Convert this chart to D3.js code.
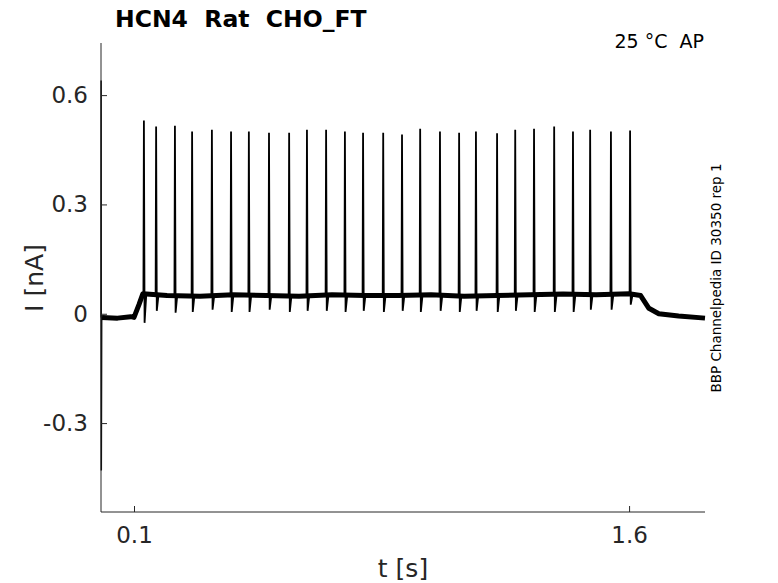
<!DOCTYPE html>
<html>
<head>
<meta charset="utf-8">
<script src="https://cdn.jsdelivr.net/npm/d3@7"></script>
<style>
  body { margin: 0; background: #fff; }
  svg { display: block; font-family: "DejaVu Sans", sans-serif; }
</style>
</head>
<body>
<svg id="chart" width="778" height="583"></svg>
<script>
// Spike times [s], peak currents and post-spike troughs [nA]
const spikeTimes = [0.130, 0.167, 0.224, 0.276, 0.336, 0.394, 0.448, 0.509, 0.570, 0.624,
                    0.682, 0.739, 0.794, 0.855, 0.912, 0.967, 1.027, 1.085, 1.136, 1.200,
                    1.255, 1.312, 1.373, 1.430, 1.482, 1.545, 1.603];
const spikePeaks = [0.530, 0.514, 0.516, 0.500, 0.505, 0.500, 0.500, 0.497, 0.497, 0.505,
                    0.505, 0.500, 0.497, 0.497, 0.492, 0.508, 0.500, 0.497, 0.500, 0.495,
                    0.505, 0.508, 0.514, 0.500, 0.505, 0.500, 0.503];
const spikeTroughs = [-0.025, 0.008, 0.003, 0.005, 0.011, 0.005, 0.005, 0.011, 0.005, 0.008,
                      0.008, 0.005, 0.008, 0.005, 0.008, 0.005, 0.008, 0.005, 0.008, 0.005,
                      0.008, 0.005, 0.005, 0.005, 0.011, 0.011, 0.025];
const plateauLevel = 0.05;

// Holding current envelope (time, current)
const baseTimes = [0.003, 0.05, 0.09, 0.1, 0.115, 0.127, 0.2, 0.3, 0.4, 0.5, 0.6, 0.7, 0.8,
                   0.9, 1.0, 1.1, 1.2, 1.3, 1.4, 1.5, 1.6, 1.635, 1.66, 1.69, 1.75, 1.83];
const baseValues = [-0.01, -0.012, -0.008, -0.01, 0.025, 0.055, 0.05, 0.048, 0.052, 0.05,
                    0.048, 0.052, 0.05, 0.05, 0.052, 0.048, 0.05, 0.052, 0.054, 0.052,
                    0.055, 0.05, 0.015, 0.0, -0.006, -0.012];

// Capacitive transient at the start of the sweep
const transientTimes = [0.0, 0.0004, 0.0009, 0.002, 0.003];
const transientValues = [-0.01, 0.64, -0.43, -0.02, -0.01];

const xTicks = [0.1, 1.6];
const xTickLabels = ["0.1", "1.6"];
const yTicks = [-0.3, 0, 0.3, 0.6];
const yTickLabels = ["-0.3", "0", "0.3", "0.6"];

const svg = d3.select("#chart");
const axisColor = "#262626";

const x = d3.scaleLinear().domain([0, 1.83]).range([101, 705]);
const y = d3.scaleLinear().domain([-0.544, 0.743]).range([512, 43]);

const line = d3.line().x(d => x(d[0])).y(d => y(d[1]));

// noisy holding current drawn as a thick band
const base = baseTimes.map((t, i) => [t, baseValues[i]]);
svg.append("path")
   .attr("d", line(base))
   .attr("fill", "none")
   .attr("stroke", "#000")
   .attr("stroke-width", 5)
   .attr("stroke-linejoin", "round");

// transient
svg.append("path")
   .attr("d", line(transientTimes.map((t, i) => [t, transientValues[i]])))
   .attr("fill", "none")
   .attr("stroke", "#000")
   .attr("stroke-width", 1.5);

// spikes
const spikes = svg.append("g");
spikeTimes.forEach((t, i) => {
    const pts = [[t - 0.0015, plateauLevel], [t, spikePeaks[i]], [t + 0.002, spikeTroughs[i]], [t + 0.007, plateauLevel]];
    spikes.append("path")
          .attr("d", line(pts))
          .attr("fill", "none")
          .attr("stroke", "#000")
          .attr("stroke-width", 1.8);
});

// axes
const xAxis = d3.axisBottom(x).tickValues(xTicks).tickSize(0).tickPadding(15)
                .tickFormat((d, i) => xTickLabels[i]);
const gx = svg.append("g").attr("transform", "translate(0,512)").call(xAxis);
gx.select(".domain").attr("stroke", axisColor).attr("d", "M101,0H705");
gx.selectAll(".tick line").attr("y2", -6).attr("stroke", axisColor);
gx.selectAll("text").attr("font-size", 23).attr("fill", axisColor).attr("font-family", "DejaVu Sans");

const yAxis = d3.axisLeft(y).tickValues(yTicks).tickSize(0).tickPadding(13)
                .tickFormat((d, i) => yTickLabels[i]);
const gy = svg.append("g").attr("transform", "translate(101,0)").call(yAxis);
gy.select(".domain").attr("stroke", axisColor).attr("d", "M0,43V512");
gy.selectAll(".tick line").attr("x2", 6).attr("stroke", axisColor);
gy.selectAll("text").attr("font-size", 23).attr("fill", axisColor).attr("font-family", "DejaVu Sans");

// labels
svg.append("text")
   .attr("x", 403).attr("y", 577)
   .attr("text-anchor", "middle")
   .attr("font-size", 25).attr("fill", axisColor)
   .text("t [s]");

svg.append("text")
   .attr("transform", "translate(43,278) rotate(-90)")
   .attr("text-anchor", "middle")
   .attr("font-size", 25).attr("fill", axisColor)
   .text("I [nA]");

svg.append("text")
   .attr("x", 115).attr("y", 27)
   .attr("font-size", 23.5).attr("font-weight", "bold").attr("fill", "#000")
   .style("white-space", "pre")
   .text("HCN4  Rat  CHO_FT");

svg.append("text")
   .attr("x", 704).attr("y", 48)
   .attr("text-anchor", "end")
   .attr("font-size", 19).attr("fill", "#000")
   .style("white-space", "pre")
   .text("25 °C  AP");

svg.append("text")
   .attr("transform", "translate(721,278) rotate(-90)")
   .attr("text-anchor", "middle")
   .attr("font-size", 13.5).attr("fill", "#000")
   .text("BBP Channelpedia ID 30350 rep 1");
</script>
</body>
</html>
